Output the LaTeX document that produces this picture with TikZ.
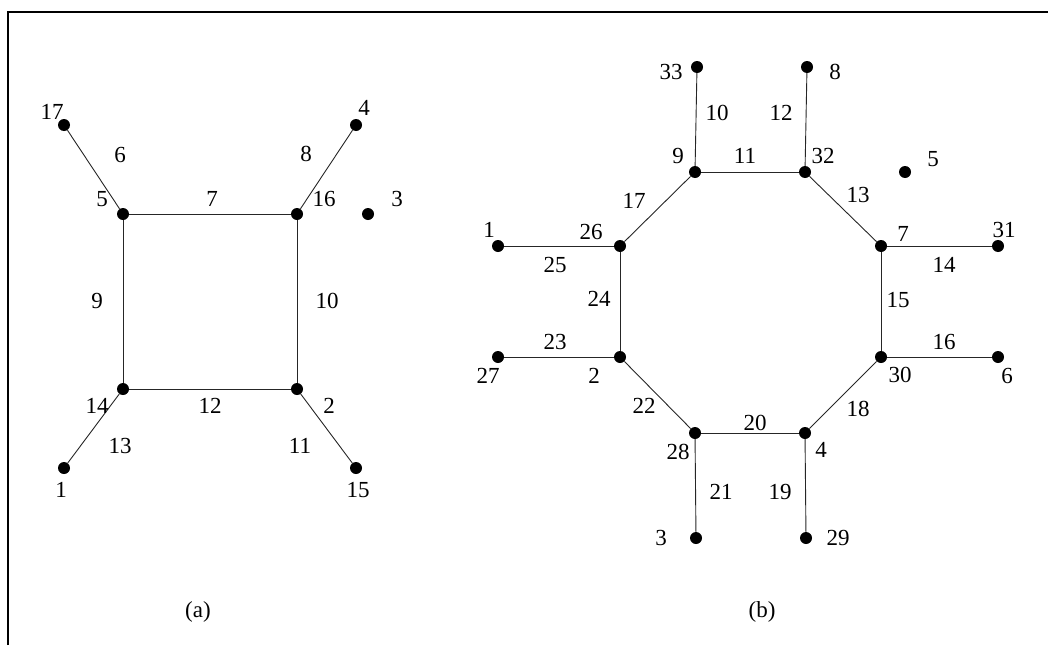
\documentclass[tikz,border=0pt]{standalone}
\usepackage{fontspec}
\setmainfont{Liberation Serif}
\begin{document}
\begin{tikzpicture}[x=1pt,y=-1pt,
  vtx/.style={circle,fill=black,inner sep=0pt,minimum size=12pt},
  edge/.style={line width=0.9pt,draw=black!85},
  lbl/.style={inner sep=0pt,font=\fontsize{23}{27}\selectfont},
  frame/.style={line width=2.6pt}]
\useasboundingbox (0,0) rectangle (1048,645);
% open frame: left and top rule
\draw[frame] (8,645) -- (8,12) -- (1048,12);

% ---------------- graph (a) ----------------
\node[vtx] (a17) at (64,125) {};
\node[vtx] (a4)  at (356,125) {};
\node[vtx] (a5)  at (123,214) {};
\node[vtx] (a16) at (297,214) {};
\node[vtx] (a3)  at (368,214) {};
\node[vtx] (a14) at (123,389) {};
\node[vtx] (a2)  at (297,389) {};
\node[vtx] (a1)  at (64,468) {};
\node[vtx] (a15) at (356,468) {};

\draw[edge] (a17) -- (a5);
\draw[edge] (a4) -- (a16);
\draw[edge] (a5) -- (a16);
\draw[edge] (a5) -- (a14);
\draw[edge] (a16) -- (a2);
\draw[edge] (a14) -- (a2);
\draw[edge] (a14) -- (a1);
\draw[edge] (a2) -- (a15);

% vertex numbers
\node[lbl] (ta17) at (52,112) {17};
\node[lbl] (ta4)  at (364,108) {4};
\node[lbl] (ta5)  at (102,199) {5};
\node[lbl] (ta16) at (324,199) {16};
\node[lbl] (ta3)  at (397,199) {3};
\node[lbl] (ta14) at (97,406) {14};
\node[lbl] (ta2)  at (329,406) {2};
\node[lbl] (ta1)  at (61,490) {1};
\node[lbl] (ta15) at (358,490) {15};
% edge numbers
\node[lbl] (ea6)  at (120,155) {6};
\node[lbl] (ea8)  at (306,154) {8};
\node[lbl] (ea7)  at (212,199) {7};
\node[lbl] (ea9)  at (97,301) {9};
\node[lbl] (ea10) at (327,301) {10};
\node[lbl] (ea12) at (210,406) {12};
\node[lbl] (ea13) at (120,446) {13};
\node[lbl] (ea11) at (300,446) {11};
\node[lbl] (capa) at (198,612) {(a)};

% ---------------- graph (b) ----------------
\node[vtx] (b33) at (697,67) {};
\node[vtx] (b8)  at (807,67) {};
\node[vtx] (b9)  at (695,172) {};
\node[vtx] (b32) at (805,172) {};
\node[vtx] (b5)  at (905,172) {};
\node[vtx] (b26) at (620,246) {};
\node[vtx] (b7)  at (881,246) {};
\node[vtx] (b1)  at (498,246) {};
\node[vtx] (b31) at (998,246) {};
\node[vtx] (b2)  at (620,357) {};
\node[vtx] (b30) at (881,357) {};
\node[vtx] (b27) at (498,357) {};
\node[vtx] (b6)  at (998,357) {};
\node[vtx] (b28) at (695,433) {};
\node[vtx] (b4)  at (805,433) {};
\node[vtx] (b3)  at (696,538) {};
\node[vtx] (b29) at (806,538) {};

\draw[edge] (b9) -- (b33);
\draw[edge] (b32) -- (b8);
\draw[edge] (b9) -- (b32);
\draw[edge] (b9) -- (b26);
\draw[edge] (b32) -- (b7);
\draw[edge] (b1) -- (b26);
\draw[edge] (b7) -- (b31);
\draw[edge] (b26) -- (b2);
\draw[edge] (b7) -- (b30);
\draw[edge] (b27) -- (b2);
\draw[edge] (b30) -- (b6);
\draw[edge] (b2) -- (b28);
\draw[edge] (b30) -- (b4);
\draw[edge] (b28) -- (b4);
\draw[edge] (b28) -- (b3);
\draw[edge] (b4) -- (b29);

% vertex numbers
\node[lbl] (tb33) at (671,72) {33};
\node[lbl] (tb8)  at (835,72) {8};
\node[lbl] (tb9)  at (678,156) {9};
\node[lbl] (tb32) at (823,156) {32};
\node[lbl] (tb5)  at (933,159) {5};
\node[lbl] (tb26) at (591,232) {26};
\node[lbl] (tb7)  at (903,234) {7};
\node[lbl] (tb1)  at (489,230) {1};
\node[lbl] (tb31) at (1004,230) {31};
\node[lbl] (tb2)  at (594,376) {2};
\node[lbl] (tb30) at (900,375) {30};
\node[lbl] (tb27) at (488,376) {27};
\node[lbl] (tb6)  at (1007,376) {6};
\node[lbl] (tb28) at (678,452) {28};
\node[lbl] (tb4)  at (821,450) {4};
\node[lbl] (tb3)  at (661,538) {3};
\node[lbl] (tb29) at (838,538) {29};
% edge numbers
\node[lbl] (eb10) at (717,113) {10};
\node[lbl] (eb12) at (781,113) {12};
\node[lbl] (eb11) at (745,156) {11};
\node[lbl] (eb17) at (634,201) {17};
\node[lbl] (eb13) at (858,195) {13};
\node[lbl] (eb25) at (555,265) {25};
\node[lbl] (eb14) at (944,265) {14};
\node[lbl] (eb24) at (599,299) {24};
\node[lbl] (eb15) at (898,300) {15};
\node[lbl] (eb23) at (555,342) {23};
\node[lbl] (eb16) at (944,342) {16};
\node[lbl] (eb22) at (644,406) {22};
\node[lbl] (eb18) at (858,409) {18};
\node[lbl] (eb20) at (755,423) {20};
\node[lbl] (eb21) at (721,492) {21};
\node[lbl] (eb19) at (780,492) {19};
\node[lbl] (capb) at (762,612) {(b)};
\end{tikzpicture}
\end{document}
